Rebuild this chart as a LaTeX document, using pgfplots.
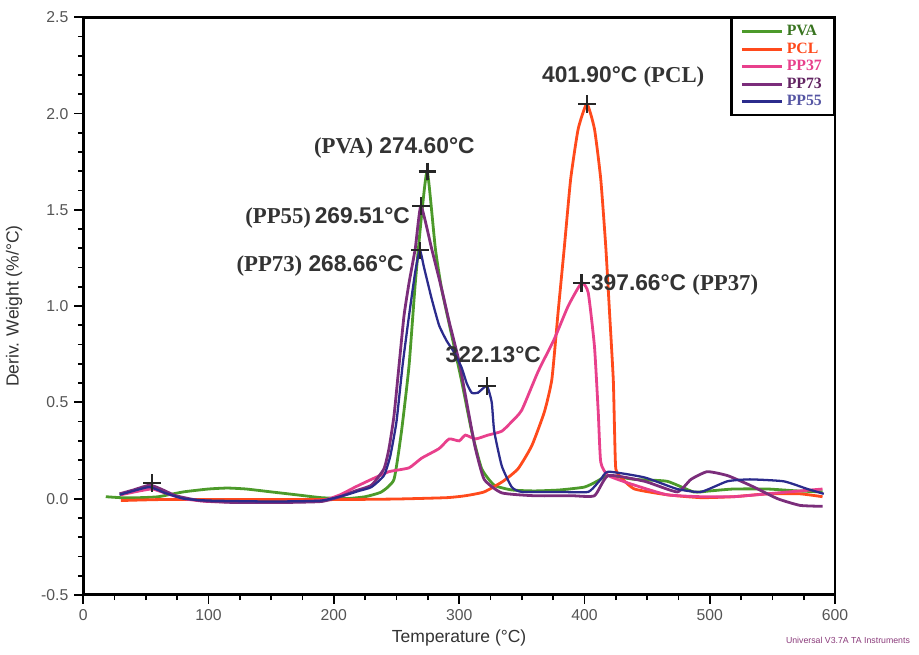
\documentclass[border=0pt]{standalone}
\usepackage{fontspec}
\setmainfont{Liberation Sans}
\newfontfamily\tnr{Liberation Serif}
\usepackage{pgfplots}
\pgfplotsset{compat=1.18}
\definecolor{pvagreen}{HTML}{4C9A2A}
\definecolor{pclred}{HTML}{FF4A1C}
\definecolor{ppink}{HTML}{E8408C}
\definecolor{ppurple}{HTML}{7B2D7B}
\definecolor{pblue}{HTML}{2B2B8C}
\definecolor{ticktext}{HTML}{555555}
\definecolor{footer}{HTML}{8A3A7A}
\begin{document}
\begin{tikzpicture}
\begin{axis}[
  scale only axis, width=15.1cm, height=11.6cm,
  xmin=0, xmax=600, ymin=-0.5, ymax=2.5,
  xtick={0,100,...,600}, ytick={-0.5,0,0.5,1,1.5,2,2.5},
  minor x tick num=3, minor y tick num=4,
  tick pos=left,
  tick align=outside, major tick length=5pt, minor tick length=3pt,
  axis line style={line width=1.6pt}, tick style={black, line width=1pt},
  /pgf/number format/assume math mode=true,
  yticklabel style={/pgf/number format/.cd, fixed, fixed zerofill, precision=1},
  tick label style={font=\small, text=ticktext},
  xlabel={Temperature (°C)}, ylabel={Deriv. Weight (\%/°C)},
  xlabel style={font=\normalsize, text=black!80, yshift=2pt},
  ylabel style={font=\normalsize, text=black!80, yshift=4pt},
  clip=false,
  legend style={at={(1,1)}, anchor=north east, draw=black, line width=1.2pt,
    font=\tnr\bfseries\small, row sep=-1.5pt, inner sep=2pt, inner xsep=5pt},
  legend cell align=left,
  legend image code/.code={\draw[#1, line width=1.8pt] (0cm,0cm) -- (0.8cm,0cm);},
]
\addplot[pvagreen, line width=1.6pt, smooth, tension=0.3] coordinates {
(18,0.01)(30,0.005)(45,0.005)(60,0.01)(80,0.035)(100,0.05)(115,0.055)(130,0.05)
(150,0.035)(170,0.02)(190,0.005)(210,0.0)(225,0.01)(238,0.035)(248,0.10)(254,0.35)
(260,0.69)(265,1.12)(270,1.47)(274.6,1.70)(281,1.30)(286,1.09)(294,0.85)(302,0.61)
(310,0.35)(318,0.155)(328,0.07)(342,0.045)(360,0.04)(380,0.045)(400,0.06)(410,0.09)
(419,0.12)(440,0.10)(466,0.09)(487,0.035)(500,0.04)(519,0.05)(546,0.05)(570,0.04)(590,0.035)};
\addlegendentry{\textcolor{pvagreen!75!black}{PVA}}
\addplot[pclred, line width=1.6pt, smooth, tension=0.3] coordinates {
(30,-0.01)(60,-0.005)(100,-0.005)(150,-0.005)(200,-0.005)(250,-0.002)(290,0.005)
(305,0.015)(320,0.035)(335,0.09)(347,0.155)(358,0.275)(368,0.45)(374,0.62)(379,0.97)
(384,1.31)(389,1.66)(395,1.92)(401.9,2.05)(408,1.92)(413,1.66)(417,1.31)(420,0.97)
(423,0.62)(424,0.36)(425,0.155)(429,0.11)(440,0.05)(466,0.02)(493,0.005)(519,0.01)
(546,0.025)(572,0.025)(590,0.01)};
\addlegendentry{\textcolor{pclred}{PCL}}
\addplot[ppink, line width=1.6pt, smooth, tension=0.3] coordinates {
(30,0.02)(45,0.04)(55,0.05)(65,0.03)(80,0.0)(100,-0.015)(150,-0.02)(190,-0.01)
(205,0.02)(217,0.06)(230,0.10)(244,0.14)(260,0.16)(270,0.21)(284,0.26)(292,0.31)
(300,0.30)(305,0.33)(313,0.31)(323,0.33)(334,0.35)(342,0.40)(350,0.46)(363,0.66)
(376,0.83)(387,1.00)(397.66,1.12)(403,1.07)(408,0.79)(411,0.45)(413,0.19)(419,0.12)
(440,0.07)(466,0.02)(493,0.01)(519,0.01)(546,0.025)(572,0.04)(590,0.05)};
\addlegendentry{\textcolor{ppink}{PP37}}
\addplot[ppurple, line width=1.6pt, smooth, tension=0.3] coordinates {
(29,0.025)(40,0.045)(53,0.07)(62,0.05)(74,0.015)(93,-0.01)(120,-0.02)(160,-0.02)
(190,-0.015)(205,0.01)(217,0.04)(230,0.07)(240,0.155)(244,0.26)(248,0.43)(252,0.69)
(256,0.95)(260,1.12)(265,1.30)(269.51,1.52)(278,1.30)(286,1.09)(292,0.92)(300,0.71)
(308,0.43)(313,0.26)(320,0.10)(334,0.03)(360,0.015)(390,0.015)(408,0.015)(419,0.12)
(448,0.09)(474,0.035)(485,0.10)(498,0.14)(514,0.12)(532,0.07)(554,0.0)(572,-0.035)(590,-0.04)};
\addlegendentry{\textcolor{ppurple!80!black}{PP73}}
\addplot[pblue, line width=1.3pt, smooth, tension=0.3] coordinates {
(29,0.02)(40,0.04)(53,0.06)(65,0.03)(80,0.0)(100,-0.01)(150,-0.015)(190,-0.01)
(210,0.02)(220,0.04)(230,0.06)(240,0.12)(245,0.22)(250,0.40)(255,0.70)(260,0.95)
(265,1.18)(268.66,1.29)(272,1.20)(278,1.04)(284,0.90)(290,0.82)(296,0.76)(302,0.68)
(306,0.60)(310,0.55)(315,0.55)(322.13,0.585)(326,0.50)(328,0.35)(334,0.17)(342,0.06)(350,0.035)
(380,0.035)(403,0.035)(413,0.10)(419,0.14)(448,0.11)(474,0.05)(493,0.035)(514,0.09)
(532,0.10)(559,0.09)(578,0.05)(591,0.025)};
\addlegendentry{\textcolor{pblue!80!white}{PP55}}
% peak markers
\addplot[only marks, mark=+, mark size=5pt, black!85, line width=1.4pt, forget plot] coordinates {
(274.6,1.70)(269.51,1.52)(268.66,1.29)(322.13,0.585)(401.9,2.05)(397.66,1.12)(55,0.08)};
% annotations
\tikzset{ann/.style={font=\fontsize{13}{15}\selectfont\bfseries, text=black!80, inner sep=0pt}}
\node[ann, anchor=west] at (axis cs:366,2.19) {401.90°C {\tnr(PCL)}};
\node[ann, anchor=west] at (axis cs:184,1.82) {{\tnr(PVA)} 274.60°C};
\node[ann, anchor=east] at (axis cs:261,1.46) {{\tnr(PP55)}\,269.51°C};
\node[ann, anchor=east] at (axis cs:256,1.21) {{\tnr(PP73)} 268.66°C};
\node[ann, anchor=west] at (axis cs:289,0.75) {322.13°C};
\node[ann, anchor=west] at (axis cs:405,1.11) {397.66°C {\tnr(PP37)}};
\node[anchor=east, font=\tiny, text=footer, inner sep=0pt] at (axis cs:660,-0.735) {Universal V3.7A TA Instruments};
\path (axis cs:-63.6,2.59) rectangle (axis cs:667,-0.808);
\end{axis}
\end{tikzpicture}
\end{document}
